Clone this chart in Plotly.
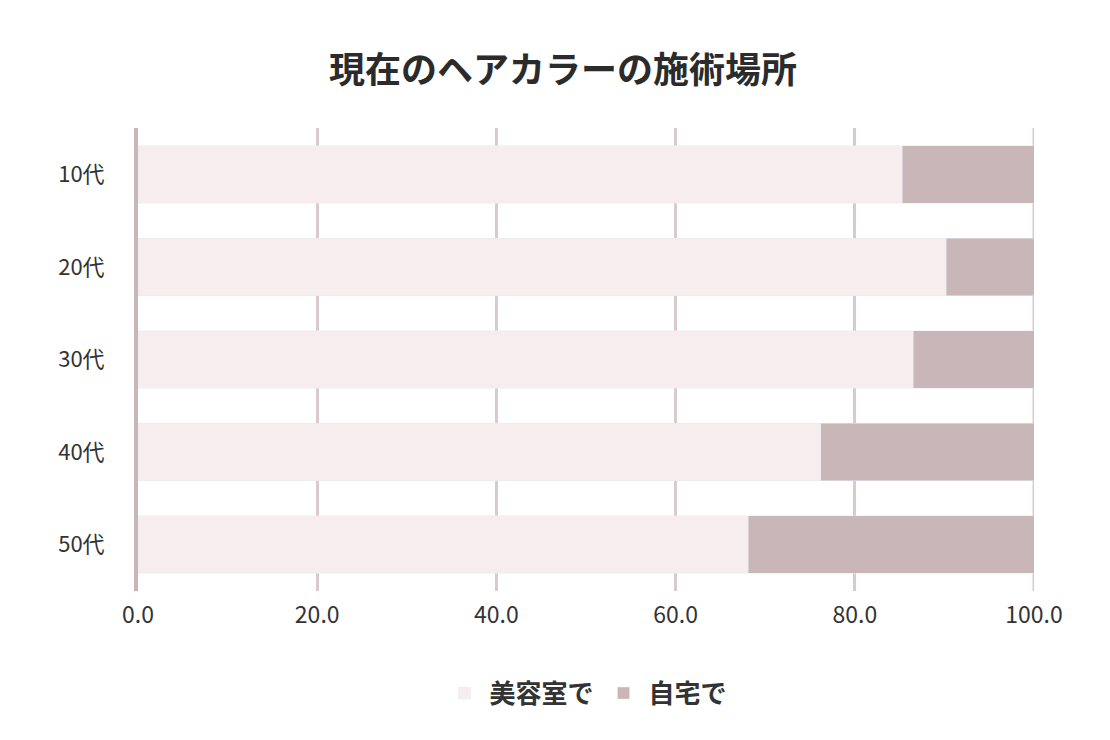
import plotly.graph_objects as go

categories = ["10代", "20代", "30代", "40代", "50代"]
salon = [85.3, 90.2, 86.5, 76.2, 68.1]
home = [14.7, 9.8, 13.5, 23.8, 31.9]
tick_vals = [0, 20, 40, 60, 80, 100]
tick_text = ["0.0", "20.0", "40.0", "60.0", "80.0", "100.0"]

font = "Noto Sans CJK JP"
fig = go.Figure()
fig.add_bar(y=categories, x=salon, orientation="h", name="<b>美容室で</b>", marker_color="#f7ecee")
fig.add_bar(y=categories, x=home, orientation="h", name="<b>自宅で</b>", marker_color="#c8b6b8")
fig.update_layout(
    width=1110, height=740, barmode="stack", bargap=0.38,
    paper_bgcolor="white", plot_bgcolor="white",
    font=dict(family=font, color="#333333", size=20),
    title=dict(text="<b>現在のヘアカラーの施術場所</b>", x=0.5, xanchor="center",
               y=1 - 62 / 740, yanchor="middle", font=dict(size=36, color="#2b2b2b")),
    margin=dict(l=130, r=84, t=120, b=157),
    legend=dict(orientation="h", x=0.5, xanchor="center", y=-0.17, yanchor="top",
                font=dict(size=26), itemwidth=40, traceorder="normal"),
    xaxis=dict(range=[0, 100], tickvals=tick_vals, ticktext=tick_text, showgrid=True,
               gridcolor="#d9cbcd", gridwidth=3, zeroline=False, tickfont=dict(size=23),
               ticks="", showline=False, ticklabelstandoff=8),
    yaxis=dict(autorange="reversed", showline=True, linecolor="#c8b6b8", linewidth=4,
               ticks="", ticklabelstandoff=25, tickfont=dict(size=22)),
)
fig.add_shape(type="line", xref="x", yref="paper", x0=100, x1=100, y0=0, y1=1,
              line=dict(color="#d9cbcd", width=3), layer="below")
fig.write_html("out.html")
